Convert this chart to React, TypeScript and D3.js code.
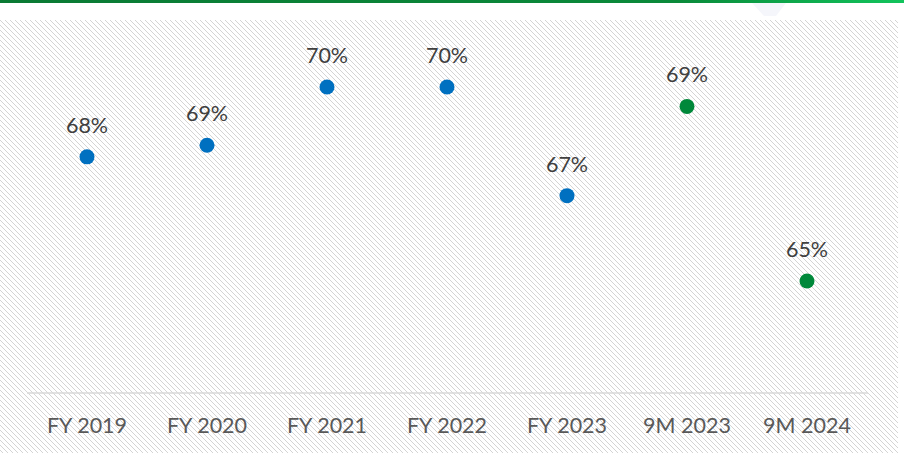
import React, { useEffect, useRef } from "react";
import * as d3 from "d3";

const categories = ["FY 2019", "FY 2020", "FY 2021", "FY 2022", "FY 2023", "9M 2023", "9M 2024"];
const values = [68.2, 68.5, 70.0, 70.0, 67.2, 69.5, 65.0];
const labels = ["68%", "69%", "70%", "70%", "67%", "69%", "65%"];
const pointColors = ["#0070c0", "#0070c0", "#0070c0", "#0070c0", "#0070c0", "#00883a", "#00883a"];

const width = 904;
const height = 453;

export default function App() {
  const ref = useRef<SVGSVGElement>(null);

  useEffect(() => {
    const svg = d3.select(ref.current);
    svg.selectAll("*").remove();

    const defs = svg.append("defs");

    const grad = defs.append("linearGradient").attr("id", "topbar").attr("x1", "0%").attr("x2", "100%");
    grad.append("stop").attr("offset", "0%").attr("stop-color", "#0a7a34");
    grad.append("stop").attr("offset", "75%").attr("stop-color", "#0a8a3a");
    grad.append("stop").attr("offset", "100%").attr("stop-color", "#12c45c");

    const pat = defs.append("pattern")
      .attr("id", "hatch")
      .attr("patternUnits", "userSpaceOnUse")
      .attr("width", 5)
      .attr("height", 5);
    pat.append("path")
      .attr("d", "M-1,-1 L6,6 M-1,4 L1,6 M4,-1 L6,1")
      .attr("stroke", "#d4d4d4")
      .attr("stroke-width", 1)
      .attr("shape-rendering", "crispEdges");

    svg.append("rect").attr("width", width).attr("height", height).attr("fill", "#ffffff");
    svg.append("rect").attr("x", 0).attr("y", 20).attr("width", 898).attr("height", height - 20).attr("fill", "url(#hatch)");

    // faint watermark shape at the top
    svg.append("path")
      .attr("d", "M752,3 L786,3 L776,16 L764,16 Z")
      .attr("fill", "#f5f6fb");

    svg.append("rect").attr("x", 0).attr("y", 0).attr("width", width).attr("height", 3).attr("fill", "url(#topbar)");

    const x = d3.scalePoint<string>()
      .domain(categories)
      .range([87, 807]);

    const y = d3.scaleLinear()
      .domain([65, 70])
      .range([281, 87]);

    const axisY = 393;
    svg.append("line")
      .attr("x1", 27).attr("x2", 868)
      .attr("y1", axisY).attr("y2", axisY)
      .attr("stroke", "#d9d9d9")
      .attr("stroke-width", 1.5);

    const font = "Lato, 'Open Sans', sans-serif";

    svg.append("g")
      .selectAll("text")
      .data(categories)
      .enter()
      .append("text")
      .attr("x", (d) => x(d)!)
      .attr("y", 433)
      .attr("text-anchor", "middle")
      .attr("font-family", font)
      .attr("font-size", 21.5)
      .attr("fill", "#595959")
      .text((d) => d);

    const pts = svg.append("g")
      .selectAll("g")
      .data(values)
      .enter()
      .append("g");

    pts.append("circle")
      .attr("cx", (_d, i) => x(categories[i])!)
      .attr("cy", (d) => y(d))
      .attr("r", 7.5)
      .attr("fill", (_d, i) => pointColors[i]);

    pts.append("text")
      .attr("x", (_d, i) => x(categories[i])!)
      .attr("y", (d) => y(d) - 24)
      .attr("text-anchor", "middle")
      .attr("font-family", font)
      .attr("font-size", 21.5)
      .attr("fill", "#404040")
      .text((_d, i) => labels[i]);
  }, []);

  return (
    <svg
      ref={ref}
      width={width}
      height={height}
      style={{ position: "absolute", left: 0, top: 0, display: "block" }}
    />
  );
}
